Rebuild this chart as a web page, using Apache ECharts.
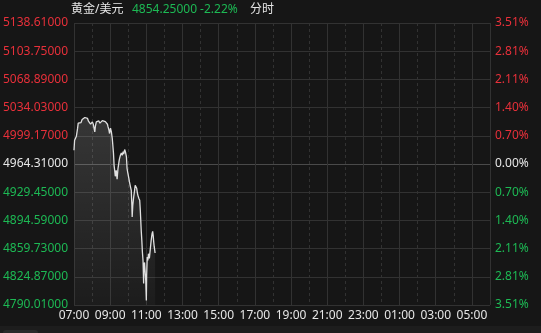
<!DOCTYPE html>
<html>
<head>
<meta charset="utf-8">
<style>
html,body{margin:0;padding:0;background:#161616;}
#c{width:541px;height:333px;}
</style>
<script src="https://cdn.jsdelivr.net/npm/echarts@6/dist/echarts.min.js"></script>
</head>
<body>
<div id="c"></div>
<script>
// ---- data ----
const instrument = '黄金/美元';
const lastPrice = '4854.25000';
const changePct = '-2.22%';
const modeLabel = '分时';
const prevClose = 4964.31;
const priceStep = 34.86;
const sessionStart = 7; // 07:00
const sessionMinutes = 1380;
// minutes after 07:00
const minutes = [0,2,5,8,12,14,17,19,23,27,31,36,40,45,48,52,55,58,61,64,69,71,74,78,82,86,91,94,100,104,107,111,113,116,118,121,124,127,130,131,133,135,137,140,143,146,149,151,154,157,160,163,165,168,171,174,176,179,182,184,187,190,192,193,195,198,201,203,206,208,210,212,215,218,220,221,223,225,227,229,231,232,234,236,238,240,241,243,245,247,250,252,254,256,259,261,263,264,266,269];
const prices = [4981.3,4993.7,4996.2,4998.7,5008.6,5014.8,5013.5,5016.4,5015.4,5019.3,5018.5,5021.8,5019.7,5020.6,5017.2,5016.4,5013.5,5012.3,5016.4,5013.5,5004.0,5011.0,5016.4,5018.5,5017.6,5014.8,5015.1,5017.9,5017.6,5016.6,5014.4,5013.5,5010.2,5006.1,5002.0,5008.6,5004.0,4995.8,4993.7,4977.6,4962.7,4956.6,4949.1,4956.6,4945.4,4959.0,4966.5,4971.0,4975.1,4978.0,4975.1,4979.5,4976.4,4982.2,4978.8,4973.0,4959.0,4952.5,4946.6,4942.1,4936.7,4931.8,4913.2,4898.7,4913.2,4923.5,4931.8,4938.0,4940.1,4934.3,4929.3,4925.6,4921.9,4919.4,4907.0,4898.7,4882.3,4869.9,4855.0,4845.1,4816.6,4836.8,4842.6,4843.0,4820.3,4795.6,4826.5,4849.2,4845.1,4853.4,4847.6,4855.0,4855.4,4869.9,4878.2,4881.0,4874.8,4869.9,4862.4,4854.25];

// ---- build ----
const RED = '#e8303a', GREEN = '#1db954', WHITE = '#e6e6e6';
const FONT = "'Noto Sans','Noto Sans CJK SC',sans-serif";
const stepC = Math.round(priceStep * 100);
const spanC = stepC * 5;
const seriesData = minutes.map((m, i) => [m, Math.round((prices[i] - prevClose) * 100)]);
function fmtTime(v) {
  const h = (sessionStart + Math.round(v / 60)) % 24;
  return (h < 10 ? '0' : '') + h + ':00';
}
function colorFor(v) {
  v = Number(v);
  if (Math.abs(v) < 1) return WHITE;
  return v > 0 ? RED : GREEN;
}
const gridLine = '#323232';
const yLineColors = [];
for (let i = 0; i <= 10; i++) yLineColors.push(i === 5 ? '#4a4a4a' : gridLine);

const chart = echarts.init(document.getElementById('c'), null, {renderer: 'canvas'});
chart.setOption({
  backgroundColor: '#161616',
  animation: false,
  textStyle: {fontFamily: FONT},
  grid: {left: 72, right: 51, top: 23, bottom: 28, containLabel: false},
  graphic: [
    {type: 'text', left: 71, top: 4, style: {text: instrument, fill: WHITE, font: '12px ' + FONT}},
    {type: 'text', left: 132, top: 4, style: {text: lastPrice + ' ' + changePct, fill: GREEN, font: '12px ' + FONT}},
    {type: 'text', left: 250, top: 4, style: {text: modeLabel, fill: WHITE, font: '12px ' + FONT}},
    {type: 'rect', left: 0, top: 326, shape: {width: 541, height: 7}, style: {fill: '#1d1d1d'}},
    {type: 'rect', left: 3, top: 330, shape: {width: 35, height: 6, r: 3}, style: {fill: '#2a2a2a'}}
  ],
  xAxis: [
    {
      type: 'value', min: 0, max: sessionMinutes, interval: 120,
      axisLine: {show: false}, axisTick: {show: false},
      axisLabel: {color: WHITE, fontSize: 12, margin: 5, fontFamily: FONT, showMaxLabel: false, formatter: fmtTime},
      splitLine: {show: true, lineStyle: {color: gridLine, width: 1, type: 'solid'}}
    },
    {
      type: 'value', min: 0, max: sessionMinutes, interval: 60, position: 'top',
      axisLine: {show: false}, axisTick: {show: false}, axisLabel: {show: false},
      splitLine: {show: true, lineStyle: {color: gridLine, width: 1, type: [3, 3]}}
    }
  ],
  yAxis: [
    {
      type: 'value', min: -spanC, max: spanC, interval: stepC, position: 'left',
      axisLine: {show: false}, axisTick: {show: false},
      axisLabel: {fontSize: 12, margin: 6, fontFamily: FONT,
        color: (v) => colorFor(v),
        formatter: (v) => (prevClose + v / 100).toFixed(5)},
      splitLine: {show: true, lineStyle: {color: yLineColors, width: 1}}
    },
    {
      type: 'value', min: -spanC, max: spanC, interval: stepC, position: 'right',
      axisLine: {show: false}, axisTick: {show: false},
      axisLabel: {fontSize: 12, margin: 5, fontFamily: FONT,
        color: (v) => colorFor(v),
        formatter: (v) => (Math.abs(v / 100) / prevClose * 100).toFixed(2) + '%'},
      splitLine: {show: false}
    }
  ],
  series: [{
    type: 'line', xAxisIndex: 0, yAxisIndex: 0,
    data: seriesData, showSymbol: false, symbol: 'none',
    lineStyle: {color: '#e0e0e0', width: 1.3},
    areaStyle: {
      origin: 'start',
      color: new echarts.graphic.LinearGradient(0, 0, 0, 1, [
        {offset: 0, color: 'rgba(255,255,255,0.20)'},
        {offset: 1, color: 'rgba(255,255,255,0.04)'}
      ])
    }
  }]
});
</script>
</body>
</html>
